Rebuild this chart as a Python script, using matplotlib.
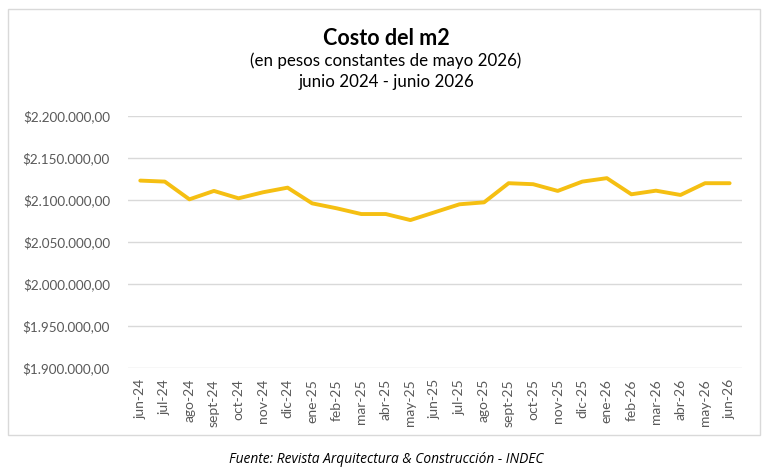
import matplotlib
matplotlib.use("Agg")
import matplotlib.pyplot as plt
from matplotlib.patches import Rectangle
from matplotlib.ticker import FuncFormatter

# datos
meses = ["jun-24", "jul-24", "ago-24", "sept-24", "oct-24", "nov-24", "dic-24",
         "ene-25", "feb-25", "mar-25", "abr-25", "may-25", "jun-25", "jul-25",
         "ago-25", "sept-25", "oct-25", "nov-25", "dic-25", "ene-26", "feb-26",
         "mar-26", "abr-26", "may-26", "jun-26"]
costo = [2123100, 2121900, 2100800, 2110800, 2102000, 2109200, 2114700,
         2096000, 2090100, 2083300, 2083300, 2076100, 2085500, 2094900,
         2097200, 2120000, 2118800, 2110800, 2121900, 2126000, 2106800,
         2111100, 2106000, 2120000, 2120000]
y_ticks = [1900000, 1950000, 2000000, 2050000, 2100000, 2150000, 2200000]

def pesos(v, pos=None):
    s = "{:,.2f}".format(v)
    s = s.replace(",", "X").replace(".", ",").replace("X", ".")
    return "$" + s

plt.rcParams['font.family'] = ['Lato', 'DejaVu Sans']

fig = plt.figure(figsize=(7.72, 4.70), dpi=100)
fig.patches.append(Rectangle((0.0104, 0.0745), 0.974, 0.906, transform=fig.transFigure,
                             fill=False, edgecolor="#d9d9d9", linewidth=1))

ax = fig.add_axes([0.1658, 0.217, 0.7952, 0.5362])
ax.plot(range(len(meses)), costo, color="#f5bf12", linewidth=2.8, solid_capstyle="round")
ax.set_xlim(-0.5, len(meses) - 0.5)
ax.set_ylim(y_ticks[0], y_ticks[-1])
ax.set_yticks(y_ticks)
ax.yaxis.set_major_formatter(FuncFormatter(pesos))
ax.set_xticks(range(len(meses)))
ax.set_xticklabels(meses, rotation=90)
ax.grid(axis="y", color="#d9d9d9", linewidth=1)
ax.set_axisbelow(True)
for s in ax.spines.values():
    s.set_visible(False)
ax.tick_params(axis="both", length=0, labelcolor="#595959")
ax.tick_params(axis="y", pad=13, labelsize=9.7)
ax.tick_params(axis="x", pad=8, labelsize=10)

fig.text(0.5, 0.919, "Costo del m2", ha="center", va="center", fontsize=15.5, fontweight="bold")
fig.text(0.5, 0.870, "(en pesos constantes de mayo 2026)", ha="center", va="center", fontsize=12.2)
fig.text(0.5, 0.825, "junio 2024 - junio 2026", ha="center", va="center", fontsize=12.2)
fig.text(0.5, 0.022, "Fuente: Revista Arquitectura & Construcción - INDEC", ha="center",
         va="center", fontsize=9.9, style="italic", family=["Open Sans", "DejaVu Sans"])

fig.savefig("out.png", dpi=100)
